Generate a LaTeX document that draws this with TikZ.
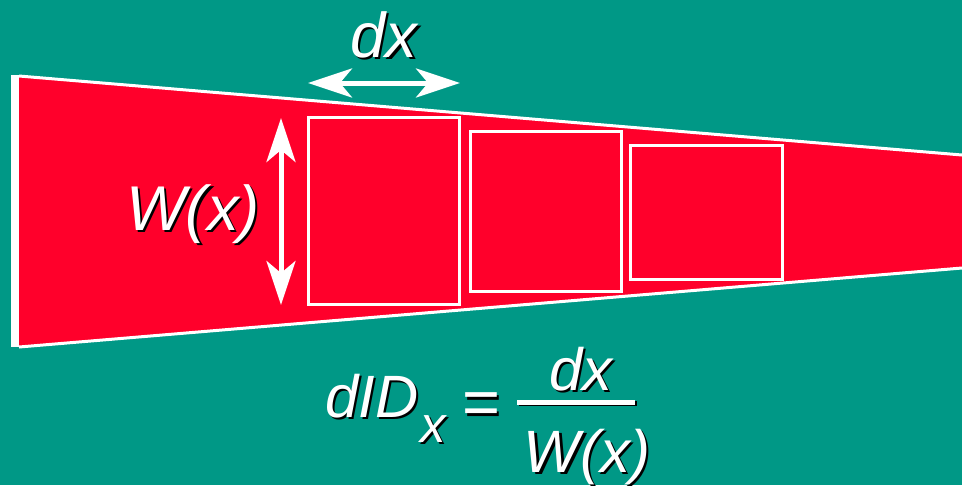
\documentclass[tikz,border=0pt]{standalone}
\usepackage{fontspec}
\setmainfont{Liberation Sans}
\usepackage{tikz}
\usetikzlibrary{arrows.meta}
\definecolor{slideteal}{HTML}{009886}
\definecolor{stripred}{HTML}{FF002B}
\newcommand{\shadowed}[1]{\makebox[0pt][l]{\kern1.3pt\raisebox{-1.3pt}{\textcolor{black}{#1}}}#1}
\tikzset{
  dimarrow/.style={<->, >={Stealth[length=0.88cm, width=0.58cm, inset=0.24cm]}, line width=0.1cm, white},
  stripline/.style={white, line width=0.06cm},
  cellbox/.style={draw=white, line width=0.06cm},
  bigtext/.style={text=white, inner sep=0pt, font=\fontsize{36}{40}\selectfont\itshape},
  eqtext/.style={text=white, inner sep=0pt, font=\fontsize{34}{38}\selectfont\itshape},
  subtext/.style={text=white, inner sep=0pt, font=\fontsize{29}{32}\selectfont\itshape}
}

\begin{document}
\begin{tikzpicture}[x=0.02cm, y=-0.02cm]
  \fill[slideteal] (0,0) rectangle (962,485);
  \useasboundingbox (0,0) rectangle (962,485);
  % tapered strip
  \fill[stripred] (19,76) -- (962,155) -- (962,268) -- (19,347) -- cycle;
  \draw[stripline] (19,76) -- (962,155);
  \draw[stripline] (19,347) -- (962,268);
  \draw[white, line width=0.18cm] (15,75) -- (15,347);
  % cells
  \draw[cellbox] (308,117) rectangle (459,304);
  \draw[cellbox] (470,131) rectangle (621,291);
  \draw[cellbox] (630,145) rectangle (782,279);
  % dimension arrows
  \coordinate (dxl) at (308,83);
  \coordinate (dxr) at (460,83);
  \coordinate (wtop) at (281,118);
  \coordinate (wbot) at (281,305);
  \draw[dimarrow] (dxl) -- (dxr);
  \draw[dimarrow] (wtop) -- (wbot);
  % labels
  \node[bigtext, anchor=base] (dxlabel) at (384,57) {\shadowed{dx}};
  \node[bigtext, anchor=base] (wlabel) at (193,230) {\shadowed{W(x)}};
  % formula
  \node[eqtext, anchor=base west] (lhs) at (325,417) {\shadowed{dID}};
  \node[subtext, anchor=base west] (lhssub) at (420,442) {\shadowed{x}};
  \node[eqtext, font=\fontsize{37}{40}\selectfont] (eqsign) at (481,410) {\shadowed{=}};
  \node[eqtext, anchor=base] (numer) at (581,390) {\shadowed{dx}};
  \node[eqtext, anchor=base] (denom) at (587,472) {\shadowed{W(x)}};
  \coordinate (barl) at (517,402);
  \coordinate (barr) at (635,402);
  \draw[black, line width=0.1cm] ([shift={(1.5,1.5)}]barl) -- ([shift={(1.5,1.5)}]barr);
  \draw[white, line width=0.1cm] (barl) -- (barr);
\end{tikzpicture}
\end{document}
